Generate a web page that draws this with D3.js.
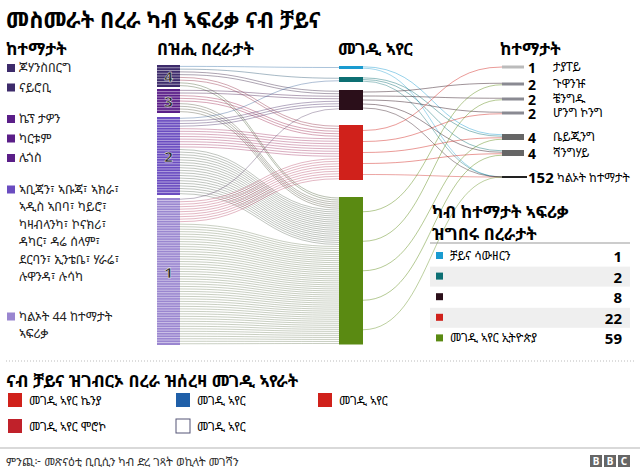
<!DOCTYPE html><html><head><meta charset="utf-8"><script src="https://cdn.jsdelivr.net/npm/d3@7"></script>
<style>body{margin:0;background:#fff}text{font-family:"Noto Sans","Noto Sans Ethiopic",sans-serif}</style></head><body>
<svg id="c" width="640" height="472"></svg>
<script>
const title="መስመራት በረራ ካብ ኣፍሪቃ ናብ ቻይና";
const groups=["4","3","2","1"];
const groupFlights=[8,9,30,59];
const groupColors=["#3d2b6b","#5a1e88","#6a4cc0","#9a86d0"];
const airlines=["ቻይና ሳውዘርን","","","","መገዲ ኣየር ኢትዮጵያ"];
const airlineFlights=[1,2,8,22,59];
const airlineColors=["#1a9bd0","#0d6f73","#2b0f1a","#d0211b","#5a8a12"];
const groupToAirline=[[1,1,2,2,2],[0,0,2,3,4],[0,1,3,8,18],[0,0,1,9,49]];
const dests=["ታያፐይ","ጉዋንዡ","ቼንግዱ","ሆንግ ኮንግ","ቤይጂንግ","ሻንግሃይ"];
const destFlights=[1,2,2,2,4,4];
const destColors=["#bbb","#8a8a92","#8a8a92","#8a8a92","#666","#666"];
const airlineToDest=[[0,0,0,0,1,0],[0,0,0,0,1,1],[0,1,1,1,0,1],[1,0,0,1,1,1],[0,1,1,0,1,1]];
const othersCount=152;
const legendCities=[["ጆሃንስበርግ"],["ናይሮቢ"],["ኬፕ ታዎን"],["ካርቱም"],["ሌጎስ"],
 ["ኣቢጃን፣ ኣቡጃ፣ ኣክራ፣","ኣዲስ ኣበባ፣ ካይሮ፣","ካዛብላንካ፣ ኮናክሪ፣","ዳካር፣ ዳሬ ሰላም፣","ደርባን፣ ኢንቴቤ፣ ሃራሬ፣","ሉዋንዳ፣ ሉሳካ"],
 ["ካልኦት 44 ከተማታት","ኣፍሪቃ"]];
const legendGroup=[0,0,1,1,1,2,3];
const airlineLogos=[["መገዲ ኣየር ኬንያ","#d0211b"],["መገዲ ኣየር","#1f5fa8"],["መገዲ ኣየር","#d0211b"],["መገዲ ኣየር ሞሮኮ","#c0212a"],["መገዲ ኣየር","#fff"]];

const svg=d3.select("#c");
const u=d3.scaleLinear().domain([0,1]).range([0,2.5]);
svg.append("text").attr("x",6).attr("y",28).attr("font-size",22).attr("font-weight",700).text(title);
[["ከተማታት",6],["በዝሒ በረራታት",157],["መገዲ ኣየር",338],["ከተማታት",500]].forEach(([t,x])=>
 svg.append("text").attr("x",x).attr("y",55).attr("font-size",17).attr("font-weight",700).text(t));

const gTops=[65,89,117,198], gH=[22,24,78,147];
const L=[];
groups.forEach((g,i)=>{const y0=gTops[i],h=gH[i];L.push({y0,h});
 svg.append("rect").attr("x",157).attr("y",y0).attr("width",23).attr("height",h).attr("fill",groupColors[i]);
 const n=groupFlights[i];
 for(let k=1;k<n;k++)svg.append("line").attr("x1",157).attr("x2",180).attr("y1",y0+h*k/n).attr("y2",y0+h*k/n).attr("stroke","#fff").attr("stroke-opacity",.7).attr("stroke-width",.7);
 svg.append("text").attr("x",168.5).attr("y",y0+h/2+6).attr("text-anchor","middle").attr("font-size",15).attr("font-weight",700).attr("fill","#222").attr("stroke","#fff").attr("stroke-width",.4).text(g);
});
const aTops=[66,77,90,125,197];
const M=airlineFlights.map((v,i)=>({y0:aTops[i],h:Math.max(u(v),3)}));
M.forEach((m,i)=>svg.append("rect").attr("x",339).attr("y",m.y0).attr("width",24).attr("height",m.h).attr("fill",airlineColors[i]));
const dY=[67,84,99,113,137,153];
const R=destFlights.map((v,i)=>({y0:dY[i]-Math.max(u(v)*0.6,3)/2,h:Math.max(u(v)*0.6,3)}));
const link=d3.linkHorizontal();
const lg=svg.insert("g","rect");
const inCount=airlineFlights.map((_,j)=>d3.sum(groupToAirline,r=>r[j]));
const inIdx=airlineFlights.map(()=>0);
groupToAirline.forEach((row,i)=>{let k=0;const n=groupFlights[i];
 row.forEach((c,j)=>{for(let q=0;q<c;q++){
  const sy=L[i].y0+L[i].h*(k+.5)/n;k++;
  const ty=M[j].y0+M[j].h*(inIdx[j]+.5)/inCount[j];inIdx[j]++;
  lg.append("path").attr("d",link({source:[180,sy],target:[339,ty]})).attr("fill","none").attr("stroke",d3.interpolateRgb(groupColors[i],airlineColors[j])(.55)).attr("stroke-opacity",.4).attr("stroke-width",1);
 }});});
const dIn=destFlights.map(()=>0);
airlineToDest.forEach((row,j)=>{let k=0;const n=d3.sum(row)+1;
 row.forEach((c,d)=>{for(let q=0;q<c;q++){
  const sy=M[j].y0+M[j].h*(k+.5)/n;k++;
  const ty=R[d].y0+R[d].h*(dIn[d]+.5)/destFlights[d];dIn[d]++;
  lg.append("path").attr("d",link({source:[363,sy],target:[502,ty]})).attr("fill","none").attr("stroke",airlineColors[j]).attr("stroke-opacity",.45).attr("stroke-width",1);
 }});
 const sy=M[j].y0+M[j].h*(k+.5)/n;
 lg.append("path").attr("d",link({source:[363,sy],target:[502,177]})).attr("fill","none").attr("stroke",airlineColors[j]).attr("stroke-opacity",.4).attr("stroke-width",1);
});
R.forEach((r,i)=>{svg.append("rect").attr("x",502).attr("y",r.y0).attr("width",22).attr("height",r.h).attr("fill",destColors[i]);
 svg.append("text").attr("x",528).attr("y",dY[i]+6).attr("font-size",14).attr("font-weight",700).text(destFlights[i]);
 svg.append("text").attr("x",553).attr("y",dY[i]+4).attr("font-size",12).text(dests[i]);});
svg.append("line").attr("x1",502).attr("x2",527).attr("y1",177).attr("y2",177).attr("stroke","#222").attr("stroke-width",2);
svg.append("text").attr("x",528).attr("y",183).attr("font-size",15).attr("font-weight",700).text(othersCount);
svg.append("text").attr("x",557).attr("y",182).attr("font-size",12).text("ካልኦት ከተማታት");

let ly=72;
legendCities.forEach((lines,i)=>{
 if(i==2||i==5)ly+=12; if(i==6)ly+=20;
 svg.append("rect").attr("x",7).attr("y",ly-8).attr("width",8).attr("height",8).attr("fill",groupColors[legendGroup[i]]);
 lines.forEach((t,k)=>svg.append("text").attr("x",19).attr("y",ly+k*17.5).attr("font-size",12.5).attr("fill","#222").text(t));
 ly+=lines.length*17.5+2;});

svg.append("text").attr("x",432).attr("y",218).attr("font-size",17).attr("font-weight",700).text("ካብ ከተማታት ኣፍሪቃ");
svg.append("text").attr("x",432).attr("y",240).attr("font-size",17).attr("font-weight",700).text("ዝግበሩ በረራታት");
svg.append("line").attr("x1",430).attr("x2",630).attr("y1",243).attr("y2",243).attr("stroke","#999");
airlineFlights.forEach((v,i)=>{const y=256+i*20.6;
 if(i%2)svg.append("rect").attr("x",430).attr("y",y-10).attr("width",200).attr("height",20).attr("fill","#efefef");
 svg.append("rect").attr("x",436).attr("y",y-4).attr("width",7).attr("height",7).attr("fill",airlineColors[i]);
 svg.append("text").attr("x",450).attr("y",y+4).attr("font-size",12).text(airlines[i]);
 svg.append("text").attr("x",622).attr("y",y+6).attr("text-anchor","end").attr("font-size",15).attr("font-weight",700).text(v);});

svg.append("line").attr("x1",6).attr("x2",634).attr("y1",361).attr("y2",361).attr("stroke","#bbb").attr("stroke-dasharray","1,2");
svg.append("text").attr("x",6).attr("y",387).attr("font-size",17).attr("font-weight",700).text("ናብ ቻይና ዝገብርኦ በረራ ዝሰረዛ መገዲ ኣየራት");
const pos=[[8,401],[176,401],[318,401],[8,427],[176,427]];
airlineLogos.forEach(([t,c],i)=>{const [x,y]=pos[i];
 svg.append("rect").attr("x",x).attr("y",y-8).attr("width",14).attr("height",14).attr("fill",c).attr("stroke",i==4?"#557":"none");
 svg.append("text").attr("x",x+21).attr("y",y+4).attr("font-size",12).text(t);});
svg.append("line").attr("x1",0).attr("x2",640).attr("y1",448).attr("y2",448).attr("stroke","#ccc").attr("stroke-width",1.5);
svg.append("text").attr("x",6).attr("y",466).attr("font-size",11.5).attr("fill","#333").text("ምንጪ፦ መጽናዕቲ ቢቢሲን ካብ ድረ ገጻት ወኪላት መገሻን");
["B","B","C"].forEach((b,i)=>{svg.append("rect").attr("x",590+i*14).attr("y",455).attr("width",12).attr("height",12).attr("fill","#666");
 svg.append("text").attr("x",596+i*14).attr("y",465).attr("text-anchor","middle").attr("font-size",10).attr("font-weight",700).attr("fill","#fff").text(b);});
</script></body></html>
